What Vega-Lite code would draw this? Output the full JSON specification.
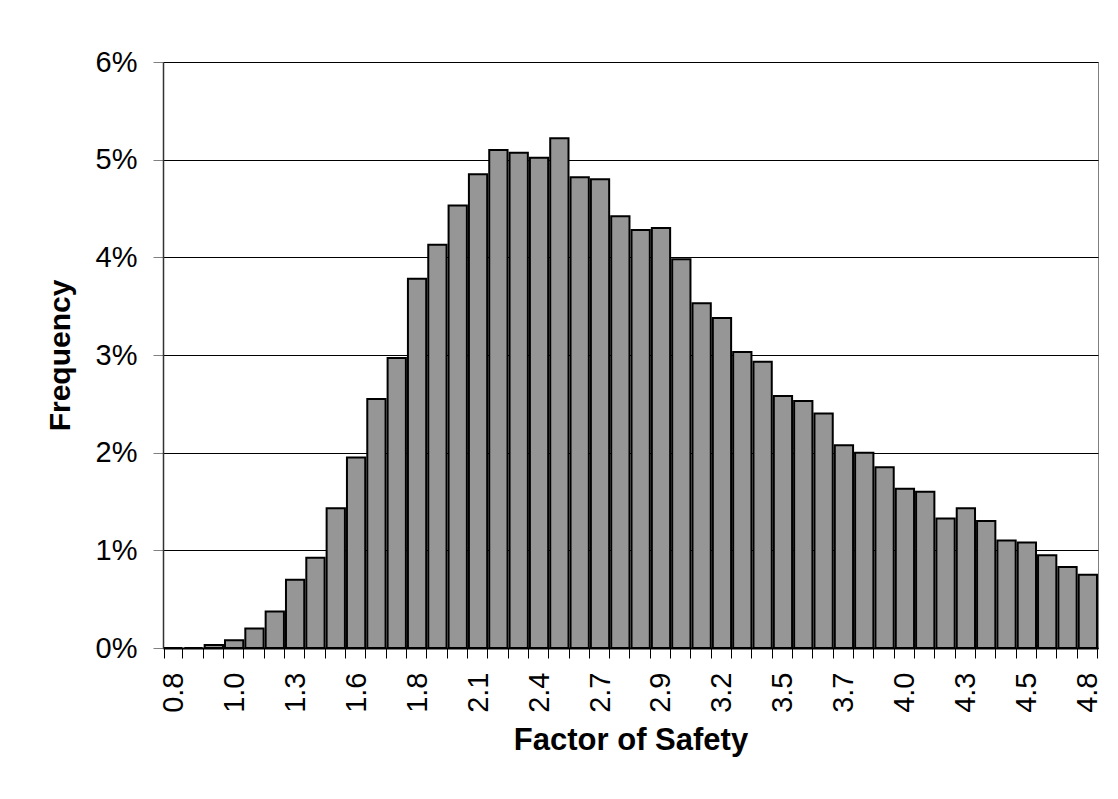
{
  "$schema": "https://vega.github.io/schema/vega-lite/v6.json",
  "autosize": {"type": "none"},
  "padding": {"left": 163, "top": 62, "right": 20, "bottom": 151},
  "width": 935,
  "height": 586,
  "background": "white",
  "config": {
    "view": {"stroke": "#808080", "strokeWidth": 1},
    "font": "Liberation Sans"
  },
  "data": {
    "values": [
      {"fs": "0.8", "freq": 0},
      {"fs": "0.89", "freq": 0},
      {"fs": "0.98", "freq": 0.0003},
      {"fs": "1.0", "freq": 0.0008},
      {"fs": "1.16", "freq": 0.002},
      {"fs": "1.24", "freq": 0.00375},
      {"fs": "1.3", "freq": 0.007},
      {"fs": "1.42", "freq": 0.00925},
      {"fs": "1.51", "freq": 0.0143},
      {"fs": "1.6", "freq": 0.0195},
      {"fs": "1.69", "freq": 0.0255},
      {"fs": "1.78", "freq": 0.0297},
      {"fs": "1.8", "freq": 0.0378},
      {"fs": "1.96", "freq": 0.0413},
      {"fs": "2.04", "freq": 0.0453},
      {"fs": "2.1", "freq": 0.0485},
      {"fs": "2.22", "freq": 0.051},
      {"fs": "2.31", "freq": 0.0507},
      {"fs": "2.4", "freq": 0.0502},
      {"fs": "2.49", "freq": 0.0522},
      {"fs": "2.58", "freq": 0.0482},
      {"fs": "2.7", "freq": 0.048},
      {"fs": "2.76", "freq": 0.0442},
      {"fs": "2.84", "freq": 0.0428},
      {"fs": "2.9", "freq": 0.043},
      {"fs": "3.02", "freq": 0.0398},
      {"fs": "3.11", "freq": 0.0353},
      {"fs": "3.2", "freq": 0.0338},
      {"fs": "3.29", "freq": 0.0303},
      {"fs": "3.38", "freq": 0.0293},
      {"fs": "3.5", "freq": 0.0258},
      {"fs": "3.56", "freq": 0.0253},
      {"fs": "3.64", "freq": 0.024},
      {"fs": "3.7", "freq": 0.02075},
      {"fs": "3.82", "freq": 0.02},
      {"fs": "3.91", "freq": 0.0185},
      {"fs": "4.0", "freq": 0.0163},
      {"fs": "4.09", "freq": 0.016},
      {"fs": "4.18", "freq": 0.01325},
      {"fs": "4.3", "freq": 0.0143},
      {"fs": "4.36", "freq": 0.013},
      {"fs": "4.44", "freq": 0.011},
      {"fs": "4.5", "freq": 0.0108},
      {"fs": "4.62", "freq": 0.0095},
      {"fs": "4.71", "freq": 0.0083},
      {"fs": "4.8", "freq": 0.0075}
    ]
  },
  "mark": {"type": "bar", "fill": "#969696", "stroke": "black", "strokeWidth": 2},
  "encoding": {
    "x": {
      "field": "fs",
      "type": "ordinal",
      "sort": null,
      "scale": {"paddingInner": 0.1, "paddingOuter": 0.05},
      "axis": {
        "title": "Factor of Safety",
        "titleFont": "Liberation Sans",
        "titleFontSize": 31,
        "titleFontWeight": "bold",
        "titleColor": "black",
        "titlePadding": 13,
        "labelAngle": -90,
        "labelFont": "Liberation Sans",
        "labelFontSize": 29,
        "labelColor": "black",
        "labelPadding": 14,
        "labelOverlap": false,
        "labelExpr": "length(datum.label) == 3 ? datum.label : ''",
        "tickBand": "extent",
        "tickSize": 10,
        "tickColor": "black",
        "tickWidth": 1,
        "domainColor": "black",
        "domainWidth": 2,
        "grid": false
      }
    },
    "y": {
      "field": "freq",
      "type": "quantitative",
      "scale": {"domain": [0, 0.06], "nice": false},
      "axis": {
        "title": "Frequency",
        "titleFont": "Liberation Sans",
        "titleFontSize": 30,
        "titleFontWeight": "bold",
        "titleColor": "black",
        "titlePadding": 20,
        "values": [0, 0.01, 0.02, 0.03, 0.04, 0.05, 0.06],
        "format": ".0%",
        "labelFont": "Liberation Sans",
        "labelFontSize": 29,
        "labelColor": "black",
        "labelPadding": 16,
        "tickSize": 10,
        "tickColor": "#808080",
        "domainColor": "#333333",
        "domainWidth": 1.5,
        "grid": true,
        "gridColor": "black",
        "gridWidth": 1,
        "gridOpacity": 1
      }
    }
  }
}
